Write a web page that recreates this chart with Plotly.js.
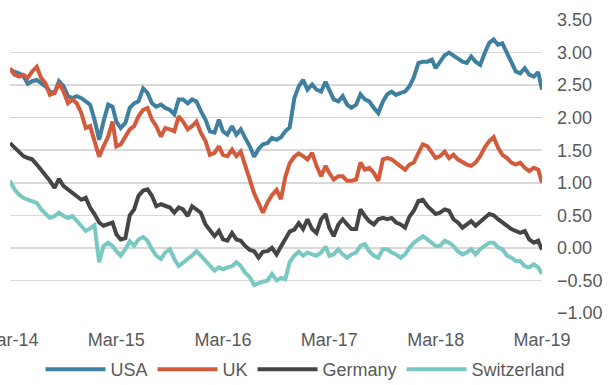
<!DOCTYPE html>
<html>
<head>
<meta charset="utf-8">
<script src="https://cdn.plot.ly/plotly-3.0.1.min.js"></script>
<style>html,body{margin:0;padding:0;background:#fff;}#chart{width:611px;height:385px;}</style>
</head>
<body>
<div id="chart"></div>
<script>
// Semi-monthly observation dates, Mar 2014 - Mar 2019
const dates = [
"2014-03-01","2014-03-16","2014-04-01","2014-04-16","2014-05-01","2014-05-16","2014-06-01","2014-06-16","2014-07-01","2014-07-16",
"2014-08-01","2014-08-16","2014-09-01","2014-09-16","2014-10-01","2014-10-16","2014-11-01","2014-11-16","2014-12-01","2014-12-16",
"2015-01-01","2015-01-16","2015-02-01","2015-02-16","2015-03-01","2015-03-16","2015-04-01","2015-04-16","2015-05-01","2015-05-16",
"2015-06-01","2015-06-16","2015-07-01","2015-07-16","2015-08-01","2015-08-16","2015-09-01","2015-09-16","2015-10-01","2015-10-16",
"2015-11-01","2015-11-16","2015-12-01","2015-12-16","2016-01-01","2016-01-16","2016-02-01","2016-02-16","2016-03-01","2016-03-16",
"2016-04-01","2016-04-16","2016-05-01","2016-05-16","2016-06-01","2016-06-16","2016-07-01","2016-07-16","2016-08-01","2016-08-16",
"2016-09-01","2016-09-16","2016-10-01","2016-10-16","2016-11-01","2016-11-16","2016-12-01","2016-12-16","2017-01-01","2017-01-16",
"2017-02-01","2017-02-16","2017-03-01","2017-03-16","2017-04-01","2017-04-16","2017-05-01","2017-05-16","2017-06-01","2017-06-16",
"2017-07-01","2017-07-16","2017-08-01","2017-08-16","2017-09-01","2017-09-16","2017-10-01","2017-10-16","2017-11-01","2017-11-16",
"2017-12-01","2017-12-16","2018-01-01","2018-01-16","2018-02-01","2018-02-16","2018-03-01","2018-03-16","2018-04-01","2018-04-16",
"2018-05-01","2018-05-16","2018-06-01","2018-06-16","2018-07-01","2018-07-16","2018-08-01","2018-08-16","2018-09-01","2018-09-16",
"2018-10-01","2018-10-16","2018-11-01","2018-11-16","2018-12-01","2018-12-16","2019-01-01","2019-01-16","2019-02-01","2019-02-16",
"2019-03-01"
];

const usa = [
2.73,2.71,2.68,2.64,2.52,2.56,2.58,2.53,2.48,2.40,
2.38,2.56,2.48,2.33,2.30,2.33,2.30,2.25,2.20,1.97,
1.66,1.94,2.20,2.17,1.94,1.84,1.92,2.15,2.22,2.25,
2.45,2.38,2.22,2.17,2.20,2.15,2.12,2.05,2.28,2.28,
2.22,2.28,2.25,2.10,1.97,1.79,1.77,1.97,1.79,1.74,
1.87,1.74,1.82,1.69,1.56,1.40,1.52,1.59,1.61,1.69,
1.66,1.70,1.79,1.85,2.30,2.48,2.58,2.43,2.51,2.43,
2.40,2.55,2.43,2.28,2.25,2.33,2.20,2.15,2.20,2.36,
2.28,2.25,2.15,2.07,2.25,2.36,2.40,2.35,2.38,2.40,
2.48,2.62,2.84,2.86,2.86,2.89,2.76,2.86,2.96,3.00,
2.96,2.91,2.86,2.84,2.94,2.86,2.81,2.99,3.15,3.20,
3.12,3.14,2.99,2.86,2.71,2.68,2.76,2.66,2.63,2.70,
2.43
];

const uk = [
2.76,2.66,2.63,2.66,2.61,2.71,2.78,2.61,2.53,2.35,
2.38,2.53,2.40,2.22,2.28,2.22,2.07,1.84,1.87,1.66,
1.40,1.56,1.71,1.94,1.56,1.59,1.71,1.82,1.87,2.02,
2.12,2.15,1.97,1.87,1.71,1.84,1.82,1.79,2.02,1.94,
1.82,1.87,1.94,1.77,1.64,1.43,1.46,1.56,1.43,1.41,
1.51,1.41,1.48,1.25,1.05,0.84,0.70,0.54,0.70,0.81,
0.89,0.75,1.09,1.30,1.40,1.45,1.41,1.36,1.46,1.26,
1.10,1.26,1.15,1.05,1.10,1.10,1.03,1.03,1.05,1.31,
1.20,1.23,1.15,1.03,1.36,1.38,1.36,1.31,1.26,1.20,
1.28,1.31,1.46,1.59,1.56,1.46,1.38,1.41,1.48,1.38,
1.43,1.36,1.31,1.28,1.26,1.31,1.41,1.54,1.64,1.70,
1.54,1.43,1.38,1.31,1.28,1.31,1.23,1.18,1.23,1.20,
1.00
];

const germany = [
1.61,1.54,1.48,1.41,1.38,1.36,1.28,1.20,1.13,1.03,
0.92,1.06,0.95,0.90,0.85,0.80,0.74,0.77,0.62,0.52,
0.39,0.34,0.36,0.39,0.21,0.13,0.15,0.50,0.59,0.80,
0.88,0.90,0.80,0.64,0.67,0.64,0.62,0.54,0.62,0.59,
0.49,0.64,0.59,0.54,0.36,0.26,0.18,0.26,0.13,0.11,
0.23,0.13,0.11,0.03,-0.03,-0.05,-0.15,-0.06,-0.05,0.00,
-0.10,0.02,0.15,0.25,0.28,0.38,0.29,0.44,0.29,0.23,
0.44,0.52,0.31,0.18,0.36,0.44,0.36,0.29,0.29,0.59,
0.49,0.41,0.36,0.44,0.46,0.44,0.46,0.39,0.36,0.31,
0.48,0.57,0.72,0.74,0.64,0.57,0.52,0.54,0.59,0.57,
0.44,0.39,0.31,0.36,0.41,0.34,0.41,0.46,0.52,0.50,
0.44,0.39,0.34,0.29,0.26,0.23,0.26,0.13,0.08,0.11,
-0.03
];

const switzerland = [
1.03,0.90,0.82,0.77,0.74,0.72,0.69,0.59,0.52,0.46,
0.49,0.54,0.49,0.46,0.49,0.41,0.34,0.26,0.30,0.35,
-0.22,0.03,0.08,0.03,-0.05,-0.12,-0.02,0.10,0.03,0.13,
0.17,0.11,-0.02,-0.12,-0.17,-0.07,-0.02,-0.17,-0.28,-0.22,
-0.17,-0.12,-0.05,-0.12,-0.20,-0.28,-0.35,-0.30,-0.33,-0.30,
-0.28,-0.22,-0.28,-0.38,-0.45,-0.57,-0.54,-0.52,-0.50,-0.40,
-0.50,-0.46,-0.48,-0.22,-0.12,-0.06,-0.12,-0.07,-0.10,-0.12,
-0.07,0.02,-0.12,-0.10,-0.02,-0.10,-0.15,-0.10,-0.07,0.03,
0.06,-0.05,-0.12,-0.15,-0.02,-0.02,-0.07,-0.10,-0.15,-0.10,
0.00,0.08,0.13,0.18,0.13,0.08,0.03,0.03,0.11,0.08,
0.03,-0.05,-0.10,-0.07,-0.02,-0.10,-0.02,0.03,0.08,0.08,
0.01,-0.02,-0.12,-0.15,-0.20,-0.20,-0.28,-0.30,-0.25,-0.30,
-0.40
];

const seriesNames = ["USA","UK","Germany","Switzerland"];
const seriesColors = ["#3f7fa0","#d35b3b","#454545","#79c8c2"];
const seriesData = [usa, uk, germany, switzerland];

const xTickVals = ["2014-03-01","2015-03-01","2016-03-01","2017-03-01","2018-03-01","2019-03-01"];
const xTickText = ["Mar-14","Mar-15","Mar-16","Mar-17","Mar-18","Mar-19"];
const zeroTickVals = ["2014-03-01","2016-03-01","2018-03-01","2019-03-01"];
const yTickVals = [-1,-0.5,0,0.5,1,1.5,2,2.5,3,3.5];

const traces = seriesData.map((d, i) => ({
  type: "scatter", mode: "lines",
  x: dates, y: d, name: seriesNames[i],
  line: {color: seriesColors[i], width: 4},
  hoverinfo: "skip"
}));

const yMin = -1, yMax = 3.5;
const layout = {
  width: 611, height: 385,
  margin: {l: 10, r: 69, t: 20, b: 72},
  paper_bgcolor: "#ffffff", plot_bgcolor: "#ffffff",
  font: {family: "Liberation Sans, Arial, sans-serif", size: 18, color: "#595959"},
  showlegend: true,
  legend: {
    orientation: "h", x: 0.5, xanchor: "center", xref: "container",
    y: 0.04, yanchor: "middle", yref: "container",
    font: {size: 18, color: "#595959"}, itemwidth: 60, traceorder: "normal"
  },
  xaxis: {
    type: "date", range: ["2014-03-01","2019-03-01"],
    tickvals: xTickVals, ticktext: xTickText,
    showgrid: false, showline: false, zeroline: false,
    ticks: "", ticklabelstandoff: 14, ticklabeloverflow: "allow",
    tickfont: {size: 18, color: "#595959"}
  },
  xaxis2: {
    type: "date", range: ["2014-03-01","2019-03-01"], overlaying: "x",
    anchor: "free", position: (0 - yMin) / (yMax - yMin), side: "bottom",
    showline: true, linecolor: "#000000", linewidth: 2,
    ticks: "outside", ticklen: 6, tickwidth: 2, tickcolor: "#000000",
    tickvals: zeroTickVals, showticklabels: false,
    showgrid: false, zeroline: false, layer: "below traces"
  },
  yaxis: {
    side: "right", range: [yMin, yMax], tickvals: yTickVals,
    tickformat: ".2f", showgrid: true, gridcolor: "#d9d9d9", gridwidth: 1.5,
    zeroline: false, showline: false, ticks: "", ticklabelstandoff: 14,
    tickfont: {size: 18, color: "#595959"}
  }
};

Plotly.newPlot("chart", traces, layout, {displayModeBar: false, staticPlot: true});
</script>
</body>
</html>
